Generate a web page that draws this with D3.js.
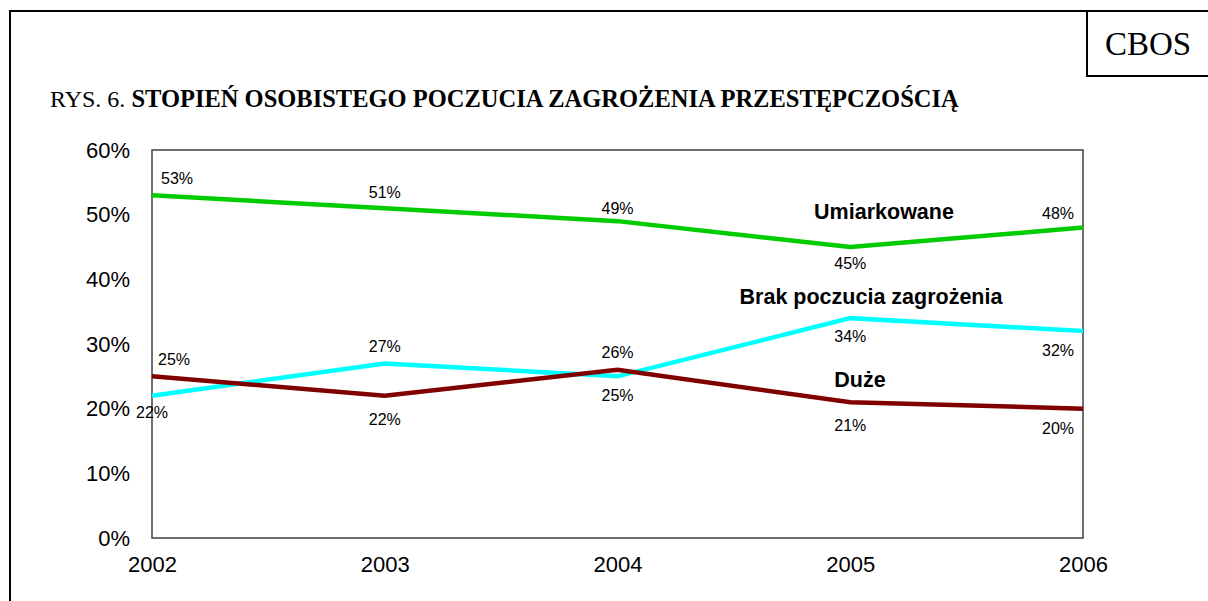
<!DOCTYPE html>
<html>
<head>
<meta charset="utf-8">
<script src="https://cdn.jsdelivr.net/npm/d3@7"></script>
<style>
  body { margin: 0; background: #fff; }
</style>
</head>
<body>
<script>
var years = ["2002", "2003", "2004", "2005", "2006"];
var umiarkowane = [53, 51, 49, 45, 48];
var brak = [22, 27, 25, 34, 32];
var duze = [25, 22, 26, 21, 20];
var yTicks = [0, 10, 20, 30, 40, 50, 60];

(function() {
    'use strict';

    // label placement per point: dx, dy relative to the point
    var series = [
        { name: "Umiarkowane", values: umiarkowane, color: "#00cc00",
          lab: [[25, -15], [0, -14], [0, -11], [0, 18], [-25, -13]],
          nx: 884, ny: 219 },
        { name: "Brak poczucia zagrożenia", values: brak, color: "#00ffff",
          lab: [[0, 18], [0, -16], [0, 20], [0, 20], [-25, 21]],
          nx: 871, ny: 304 },
        { name: "Duże", values: duze, color: "#800000",
          lab: [[22, -16], [0, 25], [0, -16], [0, 25], [-25, 21]],
          nx: 860, ny: 387 }
    ];

    var W = 1208, H = 601;
    var svg = d3.select("body").append("svg")
        .attr("width", W)
        .attr("height", H);

    var serif = "'Liberation Serif', 'Times New Roman', serif";
    var font = "Arial, 'Liberation Sans', sans-serif";

    // outer frame
    svg.append("rect")
        .attr("x", 10).attr("y", 11)
        .attr("width", 1210).attr("height", 620)
        .attr("fill", "none").attr("stroke", "#000").attr("stroke-width", 2);

    // CBOS box
    svg.append("path")
        .attr("d", "M1087,11V76H1210")
        .attr("fill", "none").attr("stroke", "#000").attr("stroke-width", 2);
    svg.append("text")
        .attr("x", 1148).attr("y", 55)
        .attr("text-anchor", "middle")
        .style("font-family", serif)
        .style("font-size", "33px")
        .text("CBOS");

    // title
    var title = svg.append("text")
        .attr("x", 50).attr("y", 107)
        .style("font-family", serif)
        .style("font-size", "24px");
    title.append("tspan").text("RYS. 6. ");
    title.append("tspan").style("font-weight", "bold")
        .style("font-size", "24.5px")
        .text("STOPIEŃ OSOBISTEGO POCZUCIA ZAGROŻENIA PRZESTĘPCZOŚCIĄ");

    var pl = 152, pr = 1083, pt = 150, pb = 538;

    var x = d3.scalePoint().domain(years).range([pl, pr]);
    var y = d3.scaleLinear().domain([0, 60]).range([pb, pt]);

    // plot frame
    svg.append("rect")
        .attr("x", pl).attr("y", pt)
        .attr("width", pr - pl).attr("height", pb - pt)
        .attr("fill", "none").attr("stroke", "#404040").attr("stroke-width", 1.5);

    var yAxis = svg.append("g")
        .attr("transform", "translate(" + pl + ",0)")
        .call(d3.axisLeft(y).tickValues(yTicks).tickSize(0).tickPadding(22)
            .tickFormat(function(d) { return d + "%"; }));
    yAxis.select(".domain").remove();
    yAxis.selectAll("text")
        .style("font-family", font).style("font-size", "22px").attr("fill", "#000");

    var xAxis = svg.append("g")
        .attr("transform", "translate(0," + pb + ")")
        .call(d3.axisBottom(x).tickSize(0).tickPadding(18));
    xAxis.select(".domain").remove();
    xAxis.selectAll("text")
        .style("font-family", font).style("font-size", "22px").attr("fill", "#000");

    var line = d3.line()
        .x(function(d, i) { return x(years[i]); })
        .y(function(d) { return y(d); });

    series.forEach(function(s) {
        svg.append("path")
            .datum(s.values)
            .attr("d", line)
            .attr("fill", "none")
            .attr("stroke", s.color)
            .attr("stroke-width", 4.5);
    });

    series.forEach(function(s) {
        svg.selectAll(null)
            .data(s.values)
            .enter()
            .append("text")
            .attr("x", function(d, i) { return x(years[i]) + s.lab[i][0]; })
            .attr("y", function(d, i) { return y(d) + s.lab[i][1]; })
            .attr("text-anchor", "middle")
            .attr("dominant-baseline", "middle")
            .style("font-family", font)
            .style("font-size", "16px")
            .text(function(d) { return d + "%"; });

        svg.append("text")
            .attr("x", s.nx).attr("y", s.ny)
            .attr("text-anchor", "middle")
            .style("font-family", font)
            .style("font-size", "21.5px")
            .style("font-weight", "bold")
            .text(s.name);
    });
}());
</script>
</body>
</html>
